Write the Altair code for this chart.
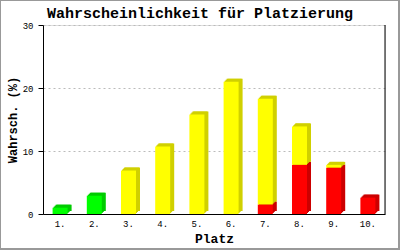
import altair as alt
import pandas as pd

# ---- data ----
places = ["1.", "2.", "3.", "4.", "5.", "6.", "7.", "8.", "9.", "10."]
green = [1.0, 2.9, 0, 0, 0, 0, 0, 0, 0, 0]
yellow = [0, 0, 6.9, 10.7, 15.8, 21.0, 16.8, 6.1, 0.45, 0]
red = [0, 0, 0, 0, 0, 0, 1.5, 7.8, 7.35, 2.6]
y_ticks = [0, 10, 20, 30]
title_text = "Wahrscheinlichkeit für Platzierung"

front_col = {"rot": "#ff0000", "gelb": "#ffff00", "grün": "#00ff00"}
side_col = {"rot": "#cc0000", "gelb": "#d0d000", "grün": "#00cc00"}
order = {"rot": 0, "gelb": 1, "grün": 2}

rows = []
for name, vals in (("rot", red), ("gelb", yellow), ("grün", green)):
    for p, v in zip(places, vals):
        if v > 0:
            rows.append({"Platz": p, "Wert": v, "Serie": name,
                         "front": front_col[name], "side": side_col[name],
                         "ord": order[name]})
df = pd.DataFrame(rows)

W, H = 342, 189
FONT = "Liberation Mono"

x_enc = alt.X("Platz:N", sort=places,
              scale=alt.Scale(paddingInner=0, paddingOuter=0),
              axis=alt.Axis(title="Platz", ticks=False, labelAngle=0,
                            labelFont=FONT, labelFontSize=9, labelColor="black",
                            labelPadding=5, domainColor="black", domainWidth=1,
                            titleFont=FONT, titleFontSize=13, titleFontWeight="bold",
                            titleColor="black", titleBaseline="alphabetic",
                            titleY=28, grid=False))
y_enc = alt.Y("Wert:Q", stack="zero",
              scale=alt.Scale(domain=[0, 30], nice=False),
              axis=alt.Axis(title="Wahrsch. (%)", values=y_ticks,
                            grid=True, gridDash=[2, 3], gridColor="#bbbbbb",
                            tickSize=5, tickColor="black", domainColor="black",
                            domainWidth=1, labelFont=FONT, labelFontSize=9,
                            labelColor="black", labelPadding=5,
                            titleFont=FONT, titleFontSize=12, titleFontWeight="bold",
                            titleColor="black", titleX=-31, titleY=H / 2,
                            titleBaseline="middle"))

base = alt.Chart(df)
layers = []
for dx, dy in [(4, -3), (3, -3), (2, -2), (1, -1)]:
    layers.append(base.mark_bar(size=15, xOffset=dx, yOffset=dy).encode(
        x=x_enc, y=y_enc, order=alt.Order("ord:Q"),
        color=alt.Color("side:N", scale=None)))
layers.append(base.mark_bar(size=15).encode(
    x=x_enc, y=y_enc, order=alt.Order("ord:Q"),
    color=alt.Color("front:N", scale=None)))

one = alt.Data(values=[{"t": title_text}])
right_line = alt.Chart(one).mark_rule(color="black", strokeWidth=1).encode(
    x=alt.value(W), y=alt.value(0), y2=alt.value(H))
title = alt.Chart(one).mark_text(font=FONT, fontSize=15, fontWeight="bold",
                                 align="center", baseline="alphabetic",
                                 color="black").encode(
    text="t:N", x=alt.value(157), y=alt.value(-7))
border = alt.Chart(one).mark_rect(fill=None, stroke="#999999", strokeWidth=2).encode(
    x=alt.value(-43), x2=alt.value(356), y=alt.value(-25), y2=alt.value(224))

chart = alt.layer(*layers, right_line, title, border).properties(
    width=W, height=H,
    autosize=alt.AutoSizeParams(type="none"),
    padding={"left": 43, "top": 25, "right": 15, "bottom": 36},
).configure_view(stroke=None).configure(background="white")

chart.save("out.html", embed_options={"renderer": "svg", "actions": False})
